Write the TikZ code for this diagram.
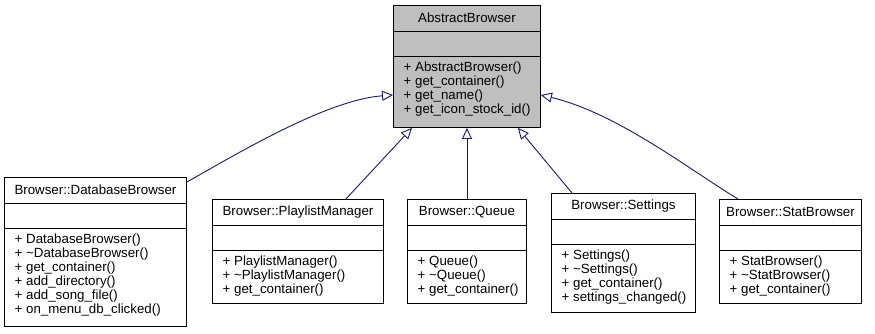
\documentclass[tikz,border=0pt]{standalone}
\usepackage{fontspec}
\setmainfont{Liberation Sans}
\usetikzlibrary{arrows.meta}

\definecolor{edgeblue}{HTML}{191970}
\definecolor{basegray}{HTML}{BFBFBF}

\tikzset{
  classbox/.style={draw=black, line width=0.9pt, rectangle, inner sep=0pt, anchor=north west},
  classtext/.style={inner sep=0pt, font=\fontsize{13.3}{14}\selectfont},
  inherit/.style={draw=edgeblue, line width=0.9pt,
    -{Triangle[open, length=11pt, width=10pt, fill=white]}},
}

% #1 fill, #2 name, #3 left, #4 top, #5 width, #6 height, #7 title, #8 members
\newcommand\umlclass[8][white]{%
  \node[classbox, fill=#1, minimum width=#5pt, minimum height=#6pt] (#2) at (#3,#4) {};
  \node[classtext] (#2-title) at ([yshift=-13pt]#2.north) {#7};
  \draw[line width=0.9pt] ([yshift=-26pt]#2.north west) -- ([yshift=-26pt]#2.north east);
  \draw[line width=0.9pt] ([yshift=-51.5pt]#2.north west) -- ([yshift=-51.5pt]#2.north east);
  \node[classtext, anchor=north west, align=left] (#2-ops)
    at ([xshift=10.5pt, yshift=-57pt]#2.north west) {#8};
}

\begin{document}
\begin{tikzpicture}[x=1pt, y=-1pt]
  \useasboundingbox[fill=white] (0,0) rectangle (875,333);

  \umlclass[basegray]{ab}{393}{5}{147}{122}{AbstractBrowser}
    {+ AbstractBrowser()\\+ get\_container()\\+ get\_name()\\+ get\_icon\_stock\_id()}

  \umlclass{db}{4}{177}{182}{149}{Browser::DatabaseBrowser}
    {+ DatabaseBrowser()\\+ \textasciitilde DatabaseBrowser()\\+ get\_container()\\+ add\_directory()\\+ add\_song\_file()\\+ on\_menu\_db\_clicked()}

  \umlclass{pm}{212}{199}{171}{104}{Browser::PlaylistManager}
    {+ PlaylistManager()\\+ \textasciitilde PlaylistManager()\\+ get\_container()}

  \umlclass{qu}{407}{199}{119}{104}{Browser::Queue}
    {+ Queue()\\+ \textasciitilde Queue()\\+ get\_container()}

  \umlclass{se}{551}{193}{144}{119}{Browser::Settings}
    {+ Settings()\\+ \textasciitilde Settings()\\+ get\_container()\\+ settings\_changed()}

  \umlclass{sb}{719}{199}{142}{104}{Browser::StatBrowser}
    {+ StatBrowser()\\+ \textasciitilde StatBrowser()\\+ get\_container()}

  % generalisation edges, child -> base class
  \draw[inherit] ([yshift=-5pt]db.north east) .. controls (235,155) and (326,100) .. ([yshift=-90pt]ab.north west);
  \draw[inherit] ([xshift=-38pt]pm.north east) -- ([xshift=19pt]ab.south west);
  \draw[inherit] (qu.north -| ab.south) -- (ab.south);
  \draw[inherit] ([xshift=21pt]se.north west) -- ([xshift=-23pt]ab.south east);
  \draw[inherit] ([xshift=19pt]sb.north west) .. controls (690,170) and (617,113) .. ([yshift=-90pt]ab.north east);
\end{tikzpicture}
\end{document}
